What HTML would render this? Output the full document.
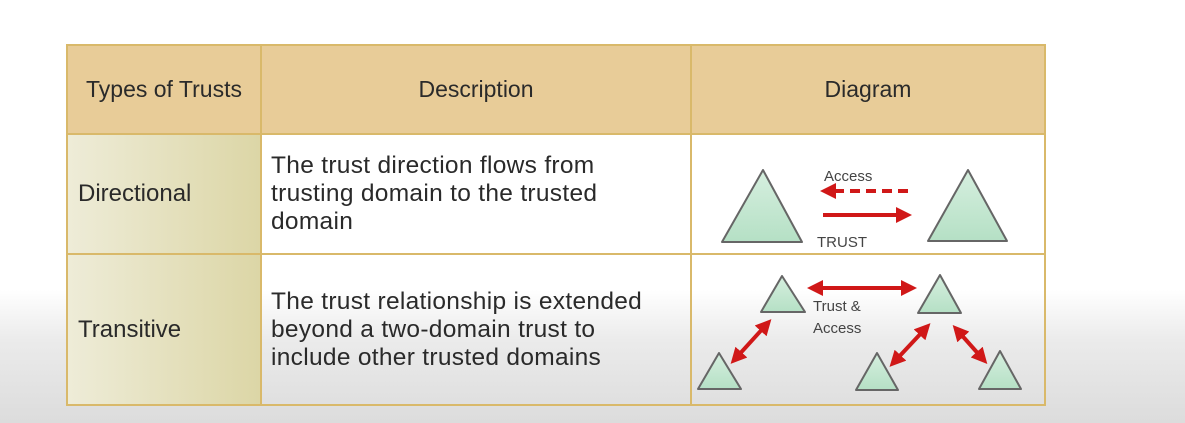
<!DOCTYPE html>
<html><head><style>
body{margin:0;width:1185px;height:423px;overflow:hidden;position:relative;font-family:"Liberation Sans",sans-serif;
background:linear-gradient(#fff 0,#fff 290px,#ebebeb 340px,#dcdcdc 423px);}
.c{position:absolute;box-sizing:border-box;color:#2a2a2a;font-size:23px;}
.hd{background:#e8cc98;display:flex;align-items:center;justify-content:center;}
.lc{background:linear-gradient(90deg,#eeecd8,#dcd6a6);display:flex;align-items:center;padding-left:11px;font-size:24px;}
.dc{display:flex;align-items:center;padding-left:10px;line-height:28px;font-size:24.5px;letter-spacing:0.3px;}
svg text{font-family:"Liberation Sans",sans-serif;fill:#444;}
</style></head><body>
<div class="c hd" style="left:67px;top:45px;width:194px;height:89px">Types of Trusts</div>
<div class="c hd" style="left:261px;top:45px;width:430px;height:89px">Description</div>
<div class="c hd" style="left:691px;top:45px;width:354px;height:89px">Diagram</div>
<div class="c lc" style="left:67px;top:134px;width:194px;height:120px">Directional</div>
<div class="c lc" style="left:67px;top:254px;width:194px;height:151px">Transitive</div>
<div class="c dc" style="left:261px;top:134px;width:430px;height:120px;background:#fff">The trust direction flows from<br>trusting domain to the trusted<br>domain</div>
<div class="c dc" style="left:261px;top:254px;width:430px;height:151px">The trust relationship is extended<br>beyond a two-domain trust to<br>include other trusted domains</div>
<div class="c" style="left:691px;top:134px;width:354px;height:120px;background:#fff"></div>
<svg width="1185" height="423" style="position:absolute;left:0;top:0">
<defs>
<linearGradient id="g" x1="0" y1="0" x2="0" y2="1"><stop offset="0" stop-color="#d6efdf"/><stop offset="1" stop-color="#b5e0c5"/></linearGradient>
<marker id="ah" markerWidth="4" markerHeight="4" refX="2" refY="2" orient="auto" markerUnits="strokeWidth"><path d="M0,0 L4,2 L0,4 z" fill="#d01818"/></marker>
<marker id="at" markerWidth="4" markerHeight="4" refX="2" refY="2" orient="auto-start-reverse" markerUnits="strokeWidth"><path d="M0,0 L4,2 L0,4 z" fill="#d01818"/></marker>
</defs>
<g fill="none" stroke="#d9b96a" stroke-width="2">
<rect x="67" y="45" width="978" height="360"/>
<line x1="261" y1="45" x2="261" y2="405"/><line x1="691" y1="45" x2="691" y2="405"/>
<line x1="67" y1="134" x2="1045" y2="134"/><line x1="67" y1="254" x2="1045" y2="254"/>
</g>
<g fill="url(#g)" stroke="#666" stroke-width="2" stroke-linejoin="round">
<path d="M763,170 L802,242 L722,242 Z"/><path d="M968,170 L1007,241 L928,241 Z"/>
<path d="M782,276 L805,312 L761,312 Z"/><path d="M940,275 L961,313 L918,313 Z"/>
<path d="M719,353 L741,389 L698,389 Z"/><path d="M877,353 L898,390 L856,390 Z"/>
<path d="M1000,351 L1021,389 L979,389 Z"/>
</g>
<g stroke="#d01818" stroke-width="4" fill="none">
<line x1="908" y1="191" x2="828" y2="191" stroke-dasharray="10,6" marker-end="url(#ah)"/>
<line x1="823" y1="215" x2="904" y2="215" marker-end="url(#ah)"/>
<line x1="815" y1="288" x2="909" y2="288" marker-start="url(#at)" marker-end="url(#ah)"/>
<line x1="736" y1="358" x2="766" y2="325" marker-start="url(#at)" marker-end="url(#ah)"/>
<line x1="895" y1="361" x2="925" y2="329" marker-start="url(#at)" marker-end="url(#ah)"/>
<line x1="958" y1="331" x2="982" y2="358" marker-start="url(#at)" marker-end="url(#ah)"/>
</g>
<text x="824" y="181" font-size="15">Access</text>
<text x="817" y="247" font-size="15">TRUST</text>
<text x="813" y="311" font-size="15">Trust &amp;</text>
<text x="813" y="333" font-size="15">Access</text>
</svg>
</body></html>
